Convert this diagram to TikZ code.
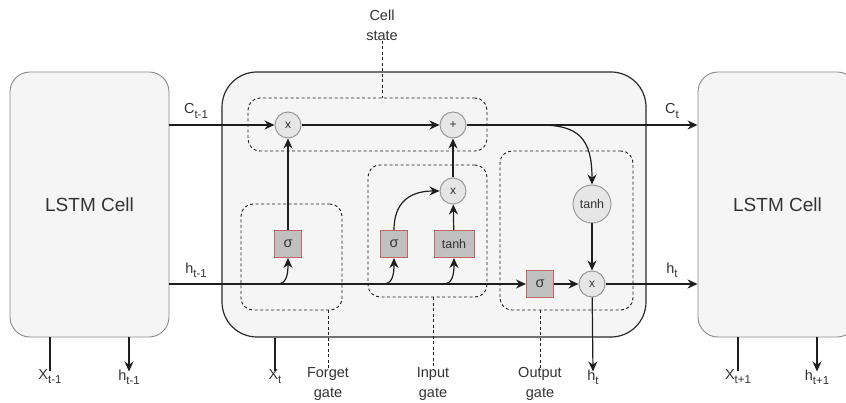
\documentclass[tikz,border=0pt]{standalone}
\usepackage{fontspec}
\setmainfont{Liberation Sans}
\usetikzlibrary{arrows.meta}
\definecolor{cellfill}{HTML}{F5F5F5}
\definecolor{cellborder}{HTML}{8A8A8A}
\definecolor{mainborder}{HTML}{2B2B2B}
\definecolor{opfill}{HTML}{E6E6E6}
\definecolor{opborder}{HTML}{999999}
\definecolor{actfill}{HTML}{C0C0C0}
\definecolor{redb}{HTML}{C4625E}
\definecolor{txt}{HTML}{333333}
\definecolor{linec}{HTML}{1E1E1E}
\newcommand\sbx[2]{#1\raisebox{-0.28em}{\fontsize{11.5}{11.5}\selectfont #2}}
\tikzset{
 cellbox/.style={draw=cellborder, fill=cellfill, rounded corners=20pt, minimum width=159pt, minimum height=265pt, line width=0.9pt, text=txt, font=\fontsize{19}{22}\selectfont},
 mainbox/.style={draw=mainborder, fill=cellfill, rounded corners=35pt, minimum width=424pt, minimum height=265pt, line width=1.2pt},
 gatebox/.style={draw=linec, rounded corners=12pt, dash pattern=on 3pt off 2.5pt, line width=0.9pt},
 op/.style={circle, draw=opborder, fill=opfill, minimum size=26pt, inner sep=0pt, text=txt, font=\fontsize{12}{12}\selectfont, line width=1pt},
 act/.style={draw=redb, fill=actfill, minimum height=27pt, minimum width=27pt, inner sep=0pt, text=txt, font=\fontsize{14.5}{14.5}\selectfont, line width=1pt},
 conn/.style={draw=linec, line width=1.2pt},
 arr/.style={conn, -{Stealth[length=10pt,width=9pt]}},
 annot/.style={draw=linec, dash pattern=on 3pt off 2.5pt, line width=0.9pt},
 lab/.style={text=txt, font=\fontsize{14.5}{20}\selectfont, inner sep=0pt, align=center},
 blab/.style={lab, inner sep=2pt}
}
\begin{document}
\begin{tikzpicture}[x=1pt,y=-1pt]
\clip (0,0) rectangle (846,403);
\fill[white] (0,0) rectangle (846,403);
% big boxes
\node[mainbox] (main) at (434,204.5) {};
\node[cellbox] (leftcell) at (89.5,204.5) {LSTM Cell};
\node[cellbox] (rightcell) at (777.5,204.5) {LSTM Cell};
% dashed gate regions
\node[gatebox, minimum width=239pt, minimum height=53pt] (csBox) at (367.5,124.5) {};
\node[gatebox, minimum width=101pt, minimum height=106pt] (fBox) at (291.5,257) {};
\node[gatebox, minimum width=119pt, minimum height=132pt] (iBox) at (427.5,231) {};
\node[gatebox, minimum width=133pt, minimum height=159pt] (oBox) at (566.5,230.5) {};
% operators
\node[op] (mulF) at (288,125) {x};
\node[op] (add) at (453,125) {+};
\node[op] (mulI) at (453,191) {x};
\node[op] (mulO) at (592,284) {x};
\node[op, minimum size=38pt, font=\fontsize{12.5}{12.5}\selectfont] (tanhO) at (592,204) {tanh};
\node[act] (fsig) at (288,244) {σ};
\node[act] (isig) at (394,244) {σ};
\node[act, minimum width=40pt, font=\fontsize{12.5}{12.5}\selectfont] (itanh) at (454,244) {tanh};
\node[act] (osig) at (540,284) {σ};
% labels
\node[lab] (cLab) at (196,111) {\sbx{C}{t-1}};
\node[lab] (hLab) at (196,270) {\sbx{h}{t-1}};
\node[lab] (ctLab) at (672,111) {\sbx{C}{t}};
\node[lab] (htLab) at (672,270) {\sbx{h}{t}};
\node[lab] (csLab) at (382,25) {Cell\\state};
\node[lab] (fLab) at (328,384) {Forget\\gate};
\node[lab] (iLab) at (433,384) {Input\\gate};
\node[lab] (oLab) at (540,384) {Output\\gate};
\node[blab] (xm1) at (50,377) {\sbx{X}{t-1}};
\node[blab] (hm1) at (129,377) {\sbx{h}{t-1}};
\node[blab] (xt) at (275,377) {\sbx{X}{t}};
\node[blab] (htb) at (593,377) {\sbx{h}{t}};
\node[blab] (xp1) at (738,377) {\sbx{X}{t+1}};
\node[blab] (hp1) at (817,377) {\sbx{h}{t+1}};
% annotation dashed leaders
\draw[annot] (csLab.south) -- (csLab.south |- csBox.north);
\draw[annot] (fBox.south -| fLab.north) -- ([yshift=-2pt]fLab.north);
\draw[annot] (iBox.south -| iLab.north) -- ([yshift=-2pt]iLab.north);
\draw[annot] (oBox.south -| oLab.north) -- ([yshift=-2pt]oLab.north);
% cell state line
\draw[arr] (leftcell.east |- mulF) -- (mulF);
\draw[arr] (mulF) -- (add);
\draw[arr] (add) -- (rightcell.west |- add);
\coordinate (cb) at (540,125);
\draw[arr] (cb) .. controls (578,125) and (592,138) .. (tanhO.north);
% hidden state line
\draw[arr] (leftcell.east |- osig) -- (osig.west);
\draw[arr] (osig) -- (mulO);
\draw[arr] (mulO) -- (rightcell.west |- mulO);
\draw[arr] (tanhO) -- (mulO);
\draw[arr] (mulO) -- ([yshift=-4pt]htb.north);
% forget gate
\coordinate (bF) at (277,284);
\draw[arr] (bF) .. controls (286,284) and (288,276) .. (fsig.south);
\draw[arr] (fsig) -- (mulF);
% input gate
\coordinate (bI) at (383,284);
\coordinate (bT) at (443,284);
\draw[arr] (bI) .. controls (392,284) and (394,276) .. (isig.south);
\draw[arr] (bT) .. controls (452,284) and (454,276) .. (itanh.south);
\draw[arr] (isig.north) .. controls (394,204) and (408,191) .. (mulI.west);
\draw[arr] (itanh) -- (mulI);
\draw[arr] (mulI) -- (add);
% bottom stubs
\draw[conn] (leftcell.south -| xm1) -- ([yshift=-3pt]xm1.north);
\draw[arr] (leftcell.south -| hm1) -- ([yshift=-4pt]hm1.north);
\draw[conn] (main.south -| xt) -- ([yshift=-3pt]xt.north);
\draw[conn] (rightcell.south -| xp1) -- ([yshift=-3pt]xp1.north);
\draw[arr] (rightcell.south -| hp1) -- ([yshift=-4pt]hp1.north);
\end{tikzpicture}
\end{document}
